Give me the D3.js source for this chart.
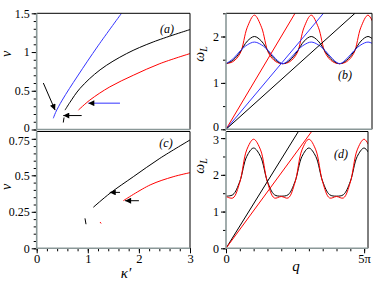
<!DOCTYPE html>
<html>
<head>
<meta charset="utf-8">
<script src="https://cdn.jsdelivr.net/npm/d3@7"></script>
<style>
  body { margin: 0; background: #fff; }
  text { font-family: "Liberation Serif", "DejaVu Serif", serif; }
</style>
</head>
<body>
<div id="chart"></div>
<script>
// ---- data ----
// panel (a): kappa' vs v-bar
var aBlue  = [[0.325,0.145],[0.37,0.22],[0.5,0.38],[0.8,0.69],[1.2,1.08],[1.66,1.5]];
var aBlack = [[0.554,0.25],[0.65,0.35],[0.847,0.53],[1.24,0.77],[1.76,0.98],[2.28,1.13],[3.0,1.29]];
var aRed   = [[0.815,0.25],[1.04,0.38],[1.43,0.55],[1.89,0.70],[2.41,0.85],[3.0,0.98]];
var aBit   = [[0.52,0.09],[0.535,0.155]];
// panel (c)
var cBlack = [[1.108,0.281],[1.434,0.377],[1.89,0.49],[2.41,0.616],[3.0,0.742]];
var cRed   = [[1.695,0.326],[2.22,0.434],[2.67,0.49],[3.0,0.518]];
var cBitBlack = [[0.945,0.205],[0.965,0.165]];
var cBitRed   = [[1.24,0.18],[1.26,0.17]];
// arrows [from, to]
var aArrows = [
  {from:[0.13,0.60], to:[0.36,0.25], color:"#000"},
  {from:[0.88,0.18], to:[0.52,0.18], color:"#000"},
  {from:[1.63,0.34], to:[1.01,0.34], color:"#3333ff"}
];
var cArrows = [
  {from:[1.63,0.383], to:[1.43,0.383], color:"#000"},
  {from:[2.0,0.326],  to:[1.73,0.326], color:"#000"}
];

// panels (b), (d): q in units of pi vs omega_L
var qPi = [0,0.25,0.5,0.75,1,1.25,1.5,1.75,2,2.25,2.5,2.75,3,3.25,3.5,3.75,4,4.25,4.5,4.75,5,5.25];
var bRed   = [1.414,1.46,1.64,2.2,2.46,2.2,1.64,1.46,1.414,1.46,1.64,2.2,2.46,2.2,1.64,1.46,1.414,1.46,1.64,2.2,2.46,2.2];
var bBlack = [1.414,1.49,1.67,1.9,2.0,1.9,1.67,1.49,1.414,1.49,1.67,1.9,2.0,1.9,1.67,1.49,1.414,1.49,1.67,1.9,2.0,1.9];
var bBlue  = [1.414,1.52,1.69,1.82,1.88,1.82,1.69,1.52,1.414,1.52,1.69,1.82,1.88,1.82,1.69,1.52,1.414,1.52,1.69,1.82,1.88,1.82];
var bLines = [
  {pts:[[0,0],[2.43,2.5]], color:"#ff0000"},
  {pts:[[0,0],[3.43,2.5]], color:"#3333ff"},
  {pts:[[0,0],[4.54,2.5]], color:"#000"}
];
var dBlack = [1.42,1.46,1.82,2.5,2.73,2.5,1.82,1.46,1.42,1.46,1.82,2.5,2.73,2.5,1.82,1.46,1.42,1.46,1.82,2.5,2.73,2.5];
var dRed   = [1.41,1.37,1.80,2.68,2.97,2.68,1.80,1.37,1.41,1.37,1.80,2.68,2.97,2.68,1.80,1.37,1.41,1.37,1.80,2.68,2.97,2.68];
var dLines = [
  {pts:[[0,0],[2.62,3.18]], color:"#000"},
  {pts:[[0,0],[3.1,3.18]],  color:"#ff0000"}
];

var gray = "#8a9898";
var svg = d3.select("#chart").append("svg").attr("width", 374).attr("height", 282);

var defs = svg.append("defs");
defs.append("marker").attr("id", "head")
  .attr("viewBox", "0 0 10 10").attr("refX", 10).attr("refY", 5)
  .attr("markerWidth", 7).attr("markerHeight", 6)
  .attr("markerUnits", "userSpaceOnUse").attr("orient", "auto")
  .append("path").attr("d", "M0,0 L10,5 L0,10 z").attr("fill", "#000");

// build one panel: scales, clip, frame
function panel(id, x0, x1, y0, y1, xDom, yDom) {
  var x = d3.scaleLinear().domain(xDom).range([x0, x1]);
  var y = d3.scaleLinear().domain(yDom).range([y1, y0]);
  defs.append("clipPath").attr("id", "clip" + id).append("rect")
    .attr("x", x0).attr("y", y0).attr("width", x1 - x0).attr("height", y1 - y0);
  var g = svg.append("g");
  var plot = g.append("g").attr("clip-path", "url(#clip" + id + ")");
  return {x: x, y: y, g: g, plot: plot, x0: x0, x1: x1, y0: y0, y1: y1};
}

// nudge: shift the lowest / highest tick label a little so stacked panels don't collide
function yAxis(p, minor, major, fmt, nudge) {
  p.g.append("g").attr("transform", "translate(" + p.x0 + ",0)")
    .call(d3.axisLeft(p.y).tickValues(minor).tickSize(3).tickFormat("").tickSizeOuter(0))
    .call(s => s.select(".domain").remove());
  var ax = p.g.append("g").attr("transform", "translate(" + p.x0 + ",0)")
    .call(d3.axisLeft(p.y).tickValues(major).tickSize(5).tickPadding(2).tickFormat(fmt).tickSizeOuter(0))
    .call(s => s.select(".domain").remove());
  ax.selectAll("text").attr("font-size", 12).attr("fill", "#000")
    .style("font-family", '"Liberation Serif", serif')
    .attr("dy", (d, i) => {
      var shift = 0;
      if (nudge && i === 0) shift = nudge[0];
      if (nudge && i === major.length - 1) shift = nudge[1];
      return (0.32 + shift / 12) + "em";
    });
}

function xAxis(p, minor, major, fmt) {
  p.g.append("g").attr("transform", "translate(0," + p.y1 + ")")
    .call(d3.axisBottom(p.x).tickValues(minor).tickSize(3).tickFormat("").tickSizeOuter(0))
    .call(s => s.select(".domain").remove());
  p.g.append("g").attr("transform", "translate(0," + p.y1 + ")")
    .call(d3.axisBottom(p.x).tickValues(major).tickSize(5).tickPadding(1).tickFormat(fmt).tickSizeOuter(0))
    .call(s => s.select(".domain").remove())
    .call(s => s.selectAll("text").attr("font-size", 12.5).attr("fill", "#000")
      .style("font-family", '"Liberation Serif", serif'));
}

function frame(p) {
  p.g.append("path").attr("fill", "none").attr("stroke", "#000").attr("stroke-width", 1)
    .attr("d", "M" + p.x0 + "," + p.y0 + "H" + p.x1 + "V" + p.y1);
  p.g.append("path").attr("fill", "none").attr("stroke", gray).attr("stroke-width", 1.6)
    .attr("d", "M" + p.x0 + "," + p.y0 + "V" + p.y1 + "H" + p.x1);
}

function curve(p, pts, color, w) {
  var line = d3.line().x(d => p.x(d[0])).y(d => p.y(d[1])).curve(d3.curveCatmullRom.alpha(0.5));
  p.plot.append("path").datum(pts).attr("d", line)
    .attr("fill", "none").attr("stroke", color).attr("stroke-width", w || 1);
}

function arrows(p, list) {
  list.forEach(function(a) {
    p.plot.append("line")
      .attr("x1", p.x(a.from[0])).attr("y1", p.y(a.from[1]))
      .attr("x2", p.x(a.to[0])).attr("y2", p.y(a.to[1]))
      .attr("stroke", a.color).attr("stroke-width", 1)
      .attr("marker-end", "url(#head)");
  });
}

function label(x, y, txt, size) {
  svg.append("text").attr("x", x).attr("y", y).attr("text-anchor", "middle")
    .attr("font-size", size).attr("font-style", "italic").text(txt);
}

// ---- panel (a) ----
var pa = panel("a", 36.7, 190, 13.3, 129.5, [0, 3], [0, 1.5]);
curve(pa, aBlue, "#3333ff");
curve(pa, aBlack, "#000");
curve(pa, aRed, "#ff0000");
curve(pa, aBit, "#000");
arrows(pa, aArrows);
yAxis(pa, d3.range(0, 1.51, 0.1), [0, 0.5, 1, 1.5], d => d3.format("~g")(d), [-2, 0]);
frame(pa);
label(167, 33, "(a)", 12);

// ---- panel (c) ----
var pc = panel("c", 36.7, 190, 131.5, 248.3, [0, 3], [0, 0.8]);
curve(pc, cBlack, "#000");
curve(pc, cRed, "#ff0000");
curve(pc, cBitBlack, "#000");
curve(pc, cBitRed, "#ff0000");
arrows(pc, cArrows);
yAxis(pc, d3.range(0, 0.76, 0.05), [0, 0.25, 0.5, 0.75], d => d3.format("~g")(d), [0, 1.5]);
xAxis(pc, d3.range(0, 3.01, 0.2), [0, 1, 2, 3], d3.format("d"));
frame(pc);
label(166, 147, "(c)", 12);

// ---- panel (b) ----
var pb = panel("b", 226, 372, 13.3, 129.3, [0, 5.14], [0, 2.5]);
curve(pb, qPi.map((q, i) => [q, bRed[i]]), "#ff0000");
curve(pb, qPi.map((q, i) => [q, bBlack[i]]), "#000");
curve(pb, qPi.map((q, i) => [q, bBlue[i]]), "#3333ff");
bLines.forEach(l => curve(pb, l.pts, l.color));
yAxis(pb, d3.range(0, 2.51, 0.5), [0, 1, 2], d3.format("d"), [-2.5, 0]);
frame(pb);
label(345, 79, "(b)", 12);

// ---- panel (d) ----
var pd = panel("d", 226, 368, 131.5, 248.3, [0, 5.14], [0, 3.18]);
curve(pd, qPi.map((q, i) => [q, dBlack[i]]), "#000");
curve(pd, qPi.map((q, i) => [q, dRed[i]]), "#ff0000");
dLines.forEach(l => curve(pd, l.pts, l.color));
yAxis(pd, d3.range(0, 3.01, 0.5), [0, 1, 2, 3], d3.format("d"), [0, 2]);
xAxis(pd, d3.range(0, 5.01, 0.5), [0, 5], d => d === 0 ? "0" : "5π");
frame(pd);
label(341, 158, "(d)", 12);

// ---- axis titles ----
function rotLabel(x, y, build) {
  var t = svg.append("text").attr("transform", "translate(" + x + "," + y + ") rotate(-90)")
    .attr("text-anchor", "middle").attr("font-size", 14).attr("font-style", "italic");
  build(t);
}
function vbar(t) {
  t.style("text-decoration", "overline").text("v");
}
rotLabel(11, 54, vbar);
rotLabel(11, 187, vbar);
function omega(t) {
  t.append("tspan").text("ω");
  t.append("tspan").attr("font-size", 10).attr("dy", 3).text("L");
}
rotLabel(204, 54, omega);
rotLabel(204, 166, omega);
label(126, 278, "κ\u2032", 15);
label(296, 271, "q", 15);
</script>
</body>
</html>
